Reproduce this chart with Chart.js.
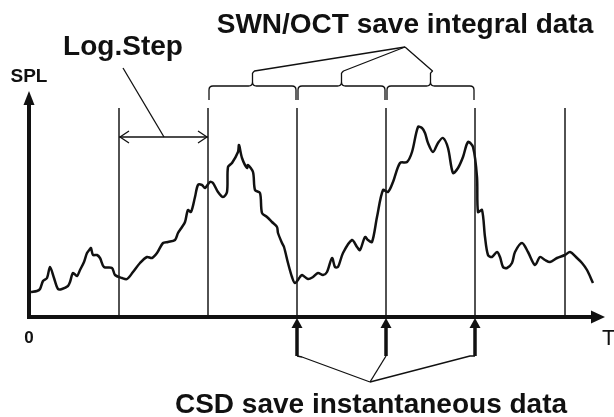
<!DOCTYPE html>
<html>
<head>
<meta charset="utf-8">
<script src="https://cdn.jsdelivr.net/npm/chart.js@4.4.1/dist/chart.umd.min.js"></script>
<style>
html, body { margin: 0; padding: 0; background: #fff; }
</style>
</head>
<body>
<canvas id="spl-chart" width="614" height="417"></canvas>
<script>
// time (arbitrary units) and sound pressure level
var timeVals = [2, 8, 11, 14, 18, 21, 25, 29, 33, 39, 41, 44, 48, 51, 55, 58, 61, 62, 64, 68,
    71, 75, 83, 86, 93, 98, 104, 111, 118, 123, 128, 134, 139, 146, 149, 153, 156, 159, 162, 166,
    169, 173, 176, 181, 184, 189, 194, 198, 199, 203, 209, 210, 213, 218, 219, 224, 226, 231, 233, 238,
    243, 248, 249, 253, 255, 259, 263, 266, 271, 273, 279, 284, 289, 294, 298, 303, 306, 309, 314, 323,
    328, 331, 336, 339, 343, 348, 354, 359, 364, 371, 378, 383, 389, 393, 396, 399, 404, 409, 414, 419,
    424, 429, 434, 439, 444, 448, 449, 453, 456, 459, 463, 468, 471, 474, 478, 483, 486, 493, 499, 506,
    511, 516, 521, 528, 536, 541, 548, 553, 558, 564];
var splVals = [25, 26, 28, 36, 39, 50, 39, 28, 28, 31, 35, 44, 41, 47, 55, 64, 68, 69, 62, 62,
    59, 50, 49, 42, 39, 38, 45, 54, 60, 59, 64, 74, 75, 77, 84, 90, 95, 107, 105, 120,
    132, 132, 129, 135, 134, 125, 120, 125, 150, 154, 165, 172, 159, 149, 152, 145, 127, 124, 104, 100,
    95, 90, 84, 74, 70, 54, 40, 34, 40, 42, 38, 40, 44, 42, 45, 59, 50, 50, 64, 77,
    70, 67, 80, 77, 75, 100, 127, 125, 135, 154, 155, 165, 190, 189, 184, 174, 165, 174, 179, 169,
    144, 149, 160, 175, 170, 140, 105, 107, 80, 62, 60, 65, 60, 50, 49, 54, 65, 74, 65, 52,
    60, 57, 55, 59, 62, 65, 59, 54, 47, 34];

// logging step boundaries
var stepTimes = [90, 179, 268, 357, 446, 536];
var stepTop = 209;
// instants where CSD saves
var csdTimes = [268, 357, 446];
// SWN/OCT integration intervals
var swnIntervals = [[179, 268], [268, 357], [357, 446]];

var tMax = 576;
var splMax = 225;

var curvePoints = timeVals.map(function (t, i) { return { x: t, y: splVals[i] }; });
var stepPoints = [];
stepTimes.forEach(function (t) {
    stepPoints.push({ x: t, y: 0 }, { x: t, y: stepTop }, { x: t, y: null });
});

var ink = '#111';

var sketchPlugin = {
    id: 'sketch',
    afterDatasetsDraw: function (chart) {
        var ctx = chart.ctx;
        var sx = chart.scales.x, sy = chart.scales.y;
        var X = function (v) { return sx.getPixelForValue(v); };
        var Y = function (v) { return sy.getPixelForValue(v); };
        ctx.save();
        ctx.strokeStyle = ink;
        ctx.fillStyle = ink;
        ctx.lineCap = 'butt';
        ctx.lineJoin = 'round';

        function line(pts, w) {
            ctx.lineWidth = w;
            ctx.beginPath();
            ctx.moveTo(pts[0][0], pts[0][1]);
            for (var i = 1; i < pts.length; i++) ctx.lineTo(pts[i][0], pts[i][1]);
            ctx.stroke();
        }
        function tri(a, b, c) {
            ctx.beginPath();
            ctx.moveTo(a[0], a[1]); ctx.lineTo(b[0], b[1]); ctx.lineTo(c[0], c[1]);
            ctx.closePath();
            ctx.fill();
        }

        // axes with arrow heads
        var x0 = X(0), y0 = Y(0);
        line([[x0 - 1, y0], [X(tMax) - 12, y0]], 4);
        tri([X(tMax), y0], [X(tMax) - 14, y0 - 6.5], [X(tMax) - 14, y0 + 6.5]);
        line([[x0, y0 + 2], [x0, Y(splMax) + 12]], 4);
        tri([x0, Y(splMax) - 1], [x0 - 5.5, Y(splMax) + 13], [x0 + 5.5, Y(splMax) + 13]);

        // Log.Step double arrow
        var ay = Y(180);
        var a1 = X(stepTimes[0]), a2 = X(stepTimes[1]);
        line([[a1, ay], [a2, ay]], 1.3);
        line([[a1 + 10, ay - 6], [a1 + 1, ay], [a1 + 10, ay + 6]], 1.3);
        line([[a2 - 10, ay - 6], [a2 - 1, ay], [a2 - 10, ay + 6]], 1.3);
        line([[X(94), Y(249)], [X(135), ay]], 1.3);

        // SWN/OCT braces
        var by = Y(231), tipY = Y(244), endY = Y(217);
        var meet = [X(376), Y(270)];
        swnIntervals.forEach(function (iv) {
            var l = X(iv[0]) + 1, r = X(iv[1]) - 1, c = (l + r) / 2;
            ctx.lineWidth = 1.3;
            ctx.beginPath();
            ctx.moveTo(l, endY);
            ctx.lineTo(l, by + 4);
            ctx.quadraticCurveTo(l, by, l + 4, by);
            ctx.lineTo(c - 4, by);
            ctx.quadraticCurveTo(c, by, c, by - 4);
            ctx.lineTo(c, tipY);
            ctx.moveTo(c, by - 4);
            ctx.quadraticCurveTo(c, by, c + 4, by);
            ctx.lineTo(r - 4, by);
            ctx.quadraticCurveTo(r, by, r, by + 4);
            ctx.lineTo(r, endY);
            ctx.stroke();
            line([[c, tipY], [c + 2, tipY - 2], meet], 1.3);
        });

        // CSD arrows
        var stemBottom = Y(-39), stemTop = Y(-10);
        var hub = [X(341), Y(-65)];
        csdTimes.forEach(function (t, i) {
            var cx = X(t);
            line([[cx, stemBottom], [cx, stemTop]], 3.5);
            tri([cx, y0 + 1], [cx - 5.5, stemTop + 1], [cx + 5.5, stemTop + 1]);
            var foot = i === 0 ? [cx + 5, stemBottom + 1] : (i === 2 ? [cx - 5, stemBottom] : [cx, stemBottom]);
            line([[cx, stemBottom], foot, hub], 1.3);
        });

        // labels
        ctx.textAlign = 'center';
        ctx.textBaseline = 'alphabetic';
        ctx.font = 'bold 28px "Liberation Sans", Arial, sans-serif';
        ctx.fillText('SWN/OCT save integral data', X(376), Y(284));
        ctx.fillText('Log.Step', X(94), Y(262));
        ctx.fillText('CSD save instantaneous data', X(342), Y(-96));
        ctx.font = 'bold 19px "Liberation Sans", Arial, sans-serif';
        ctx.fillText('SPL', x0, Y(235));
        ctx.font = 'bold 17px "Liberation Sans", Arial, sans-serif';
        ctx.fillText('0', x0, Y(-26));
        ctx.font = '22px "Liberation Sans", Arial, sans-serif';
        ctx.textAlign = 'left';
        ctx.fillText('T', X(tMax) - 3, Y(-28));
        ctx.restore();
    }
};

new Chart(document.getElementById('spl-chart'), {
    type: 'line',
    data: {
        datasets: [{
            label: 'Log steps',
            data: stepPoints,
            borderColor: '#1a1a1a',
            borderWidth: 1.5,
            pointRadius: 0,
            spanGaps: false,
            tension: 0
        }, {
            label: 'SPL',
            data: curvePoints,
            borderColor: ink,
            borderWidth: 2.5,
            pointRadius: 0,
            tension: 0.3,
            cubicInterpolationMode: 'default'
        }]
    },
    options: {
        responsive: false,
        animation: false,
        layout: { padding: { left: 29, right: 614 - 605, top: 317 - splMax, bottom: 100 } },
        plugins: { legend: { display: false }, tooltip: { enabled: false } },
        scales: {
            x: { type: 'linear', min: 0, max: tMax, display: false },
            y: { type: 'linear', min: 0, max: splMax, display: false }
        }
    },
    plugins: [sketchPlugin]
});
</script>
</body>
</html>
